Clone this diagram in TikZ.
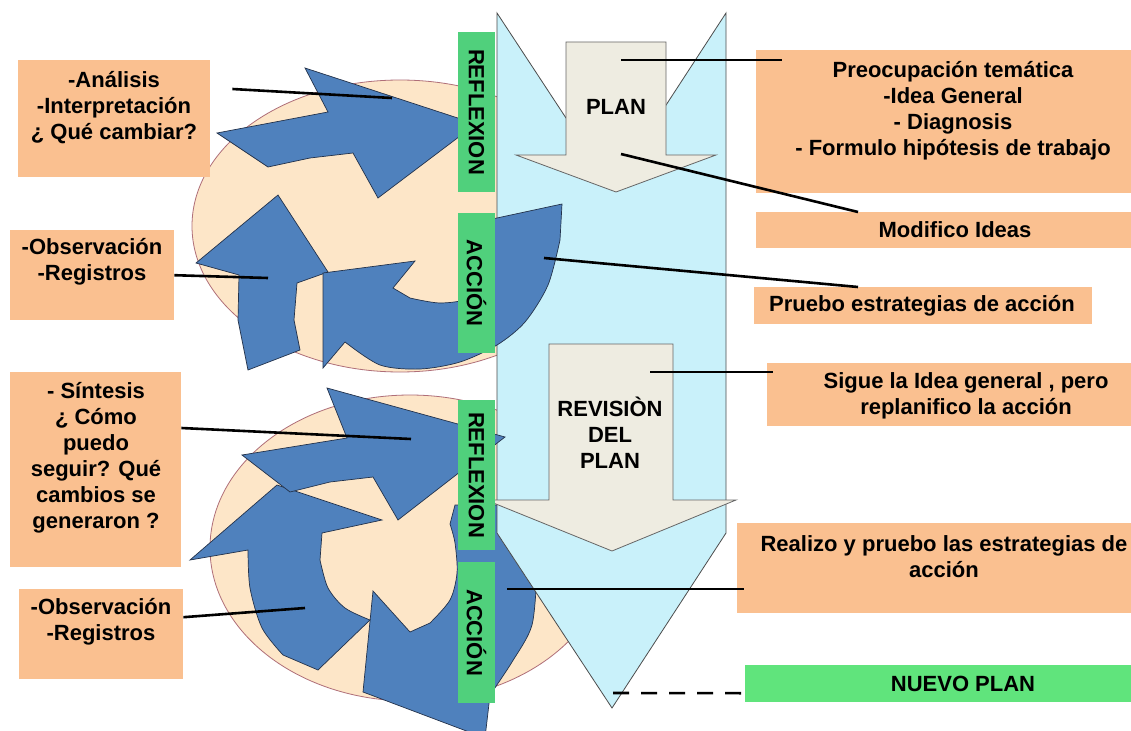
\documentclass[tikz,border=0pt]{standalone}
\usepackage{fontspec}
\setmainfont{Liberation Sans}
\definecolor{arrowblue}{RGB}{79,129,189}
\definecolor{arrowedge}{RGB}{35,50,75}
\definecolor{columnblue}{RGB}{201,241,250}
\definecolor{plantan}{RGB}{238,236,225}
\definecolor{ovalpeach}{RGB}{253,230,200}
\definecolor{ovaledge}{RGB}{175,110,120}
\definecolor{notebox}{RGB}{250,192,144}
\definecolor{taggreen}{RGB}{80,208,124}
\definecolor{newgreen}{RGB}{96,228,124}

\begin{document}
\begin{tikzpicture}[x=1pt, y=-1pt,
	note/.style={fill=notebox, inner sep=0pt, anchor=north west},
	notetext/.style={font=\bfseries\fontsize{22}{26}\selectfont, align=center, inner sep=0pt},
	tag/.style={fill=taggreen, rotate=-90, minimum height=37pt, inner sep=0pt, font=\bfseries\fontsize{22}{26}\selectfont},
	cycarrow/.style={fill=arrowblue, draw=arrowedge, line width=0.7pt},
	oval/.style={fill=ovalpeach, draw=ovaledge, line width=0.8pt},
	block/.style={fill=plantan, draw=black!60, line width=0.8pt},
	conn/.style={line width=2.6pt}]

	\clip (0,0) rectangle (1131,730);
	\fill[white] (0,0) rectangle (1131,730);

	% ovals behind the cycles
	\path[oval] (400,226) ellipse [x radius=208, y radius=146];
	\path[oval] (410,548) ellipse [x radius=200, y radius=153];

	% lower action arrow, partly under the column
	\path[cycarrow] (363,692) -- (373,591) -- (410,632) -- plot[smooth] coordinates {(430,623) (450,600) (457,573) (455,543) (450,524)}
		-- (455,505) -- (525,505) -- plot[smooth] coordinates {(537,570) (532,625) (512,662) (490,695)} -- (485,738) -- cycle;

	% big notched column
	\path[fill=columnblue, draw=black!70, line width=0.8pt] (497,13) -- (612,188) -- (726,13) -- (726,533) -- (612,708) -- (497,533) -- cycle;

	% upper cycle
	\path[cycarrow] (217,133) -- (328,112) -- (305,68) -- (476,124) -- (378,198) -- (353,153)
		-- plot[smooth] coordinates {(310,158) (268,167)} -- cycle;
	\path[cycarrow] (278,195) -- (328,272) -- (297,283) -- plot[smooth] coordinates {(294,320) (300,350)}
		-- (248,370) -- plot[smooth] coordinates {(238,320) (239,275)} -- (196,263) -- cycle;
	\path[cycarrow] (323,273) -- (415,261) -- (393,288) -- plot[smooth] coordinates {(410,298) (440,303) (470,298) (486,278) (490,250) (483,221)}
		-- (562,204) -- plot[smooth] coordinates {(560,240) (548,285) (525,322) (497,345) (460,362) (420,369) (380,365) (345,342)}
		-- (323,368) -- cycle;

	% lower cycle
	\path[cycarrow] (190,560) -- (277,485) -- (382,520) -- (322,533) -- plot[smooth] coordinates {(320,560) (328,588) (345,608) (370,620)}
		-- (318,670) -- plot[smooth] coordinates {(283,655) (262,628) (250,588) (248,550)} -- cycle;
	\path[cycarrow] (242,455) -- (347,438) -- (327,388) -- (505,437) -- (398,520) -- (373,477)
		-- plot[smooth] coordinates {(330,482) (290,492)} -- cycle;

	% plan arrows
	\path[block] (566,42) -- (666,42) -- (666,155) -- (716,155) -- (616,192) -- (516,155) -- (566,155) -- cycle;
	\path[block] (549,344) -- (673,344) -- (673,500) -- (736,500) -- (612,551) -- (486,500) -- (549,500) -- cycle;
	\node[notetext] (plan) at (616,107) {PLAN};
	\node[notetext] (revision) at (610,433) {REVISIÒN\\DEL\\PLAN};

	% green tags
	\node[tag, minimum width=160pt] (reflexA) at (476.5,112) {REFLEXION};
	\node[tag, minimum width=140pt] (accionA) at (476.5,283) {ACCIÓN};
	\node[tag, minimum width=150pt] (reflexB) at (476.5,475) {REFLEXION};
	\node[tag, minimum width=141pt] (accionB) at (476.5,632.5) {ACCIÓN};

	% notes on the left
	\node[note, minimum width=192pt, minimum height=117pt] (analisisBox) at (18,60) {};
	\node[notetext] (analisis) at (114,108) {-Análisis\\-Interpretación\\¿ Qué cambiar?};
	\node[note, minimum width=164pt, minimum height=90pt] (registrosBox) at (10,230) {};
	\node[notetext] (registros) at (92,262) {-Observación\\-Registros};
	\node[note, minimum width=171pt, minimum height=195pt] (sintesisBox) at (10,372) {};
	\node[notetext] (sintesis) at (96,458) {- Síntesis\\¿ Cómo\\puedo\\seguir? Qué\\cambios se\\generaron ?};
	\node[note, minimum width=164pt, minimum height=90pt] (registrosBoxB) at (19,589) {};
	\node[notetext] (registrosB) at (101,622) {-Observación\\-Registros};

	% notes on the right
	\node[note, minimum width=394pt, minimum height=143pt] (preocBox) at (756,50) {};
	\node[notetext] (preoc) at (953,111) {Preocupación temática\\-Idea General\\- Diagnosis\\- Formulo hipótesis de trabajo};
	\node[note, minimum width=394pt, minimum height=36pt] (modificoBox) at (756,212) {};
	\node[notetext] (modifico) at (955,230) {Modifico Ideas};
	\node[note, minimum width=338pt, minimum height=37pt] (prueboBox) at (754,287) {};
	\node[notetext] (pruebo) at (922,306) {Pruebo estrategias de acción};
	\node[note, minimum width=398pt, minimum height=63pt] (sigueBox) at (767,363) {};
	\node[notetext] (sigue) at (966,396) {Sigue la Idea general , pero\\replanifico la acción};
	\node[note, minimum width=452pt, minimum height=90pt] (realizoBox) at (737,523) {};
	\node[notetext] (realizo) at (944,557) {Realizo y pruebo las estrategias de\\acción};
	\node[note, fill=newgreen, minimum width=436pt, minimum height=37pt] (nuevoBox) at (745,665) {};
	\node[notetext] (nuevo) at (963,684) {NUEVO PLAN};

	% points on the shapes
	\coordinate (reflexApt) at (392,98);
	\coordinate (obsApt) at (268,278);
	\coordinate (reflexBpt) at (411,439);
	\coordinate (obsBpt) at (305,608);
	\coordinate (planTop) at (621,60);
	\coordinate (planLow) at (621,154);
	\coordinate (accionApt) at (544,258);
	\coordinate (revPt) at (650,372);
	\coordinate (accionBpt) at (507,589);
	\coordinate (columnTip) at (613,693);

	\draw[conn] ([xshift=22pt,yshift=-29pt]analisisBox.north east) -- (reflexApt);
	\draw[conn] (registrosBox.east) -- (obsApt);
	\draw[conn] ([yshift=-56pt]sintesisBox.north east) -- (reflexBpt);
	\draw[conn] ([yshift=17pt]registrosBoxB.east) -- (obsBpt);
	\draw[conn] (planTop) -- ([xshift=26pt,yshift=-10pt]preocBox.north west);
	\draw[conn] (planLow) -- ([xshift=102pt]modificoBox.north west);
	\draw[conn] (accionApt) -- ([xshift=104pt]prueboBox.north west);
	\draw[conn] (revPt) -- ([xshift=6pt,yshift=-9pt]sigueBox.north west);
	\draw[conn] (accionBpt) -- ([xshift=7pt,yshift=-66pt]realizoBox.north west);
	\draw[conn, dash pattern=on 16pt off 12pt] (columnTip) -- ([yshift=-9.5pt]nuevoBox.west);
\end{tikzpicture}
\end{document}
